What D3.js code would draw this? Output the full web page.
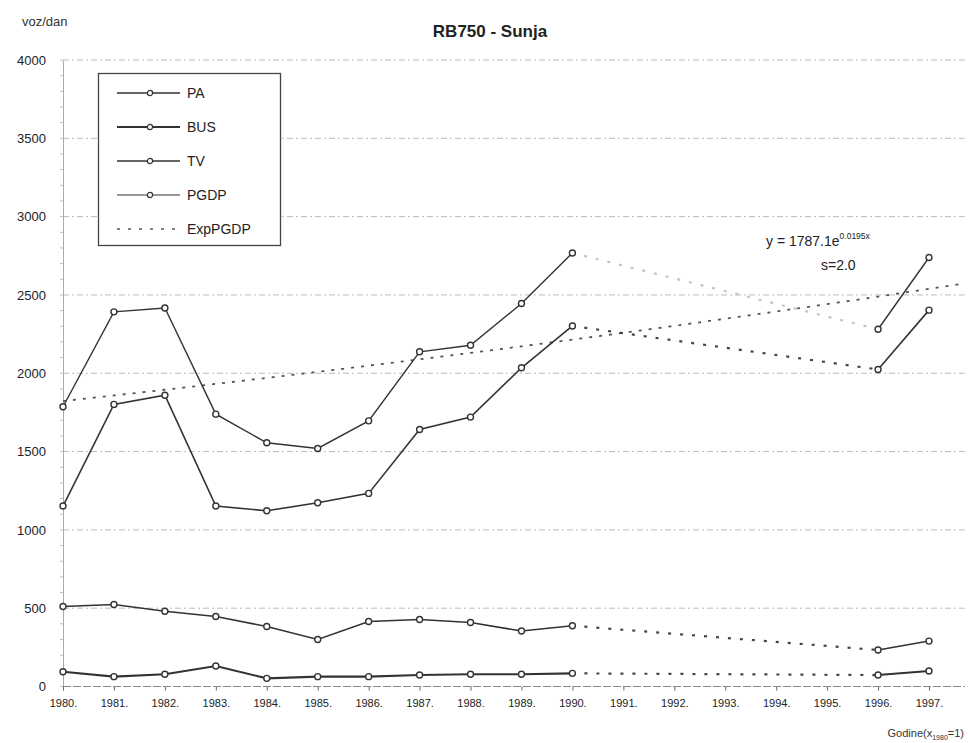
<!DOCTYPE html>
<html>
<head>
<meta charset="utf-8">
<script src="https://cdn.jsdelivr.net/npm/d3@7"></script>
<style>
  html, body { margin: 0; padding: 0; background: #fff; }
  svg { display: block; font-family: "Liberation Sans", Arial, sans-serif; }
</style>
</head>
<body>
<svg id="chart" width="968" height="743"></svg>
<script>
// Years on the x axis (x = 1 for 1980)
const years = [1980, 1981, 1982, 1983, 1984, 1985, 1986, 1987, 1988, 1989, 1990, 1991, 1992, 1993, 1994, 1995, 1996, 1997];
const yTicks = [0, 500, 1000, 1500, 2000, 2500, 3000, 3500, 4000];

// Counted years (no counts 1991–1995)
const countYearsA = [1980, 1981, 1982, 1983, 1984, 1985, 1986, 1987, 1988, 1989, 1990];
const countYearsB = [1996, 1997];

// Vehicles per day
const paA   = [1152, 1801, 1860, 1152, 1122, 1173, 1233, 1641, 1720, 2035, 2302];
const paB   = [2024, 2403];
const busA  = [94, 63, 78, 131, 52, 63, 63, 73, 78, 78, 84];
const busB  = [73, 99];
const tvA   = [511, 524, 480, 447, 383, 300, 415, 428, 409, 354, 388];
const tvB   = [233, 290];
const pgdpA = [1786, 2392, 2417, 1739, 1556, 1520, 1696, 2137, 2179, 2445, 2768];
const pgdpB = [2281, 2739];

// Exponential trend of PGDP as stated on the chart: y = a·e^(b·x)
const expA = 1787.1;
const expB = 0.0195;
const trendLabel = "s=2.0";

const svg = d3.select("#chart");
const x = d3.scaleLinear().domain([1980, 1997]).range([63, 929]);
const y = d3.scaleLinear().domain([0, 4000]).range([686.5, 60]);
const xEnd = 1997.7;   // right edge of the plot area

const ink = "#333";
const font = "Liberation Sans, Arial, sans-serif";

// Title and axis captions
svg.append("text").attr("x", 490).attr("y", 37).attr("text-anchor", "middle")
  .attr("font-size", 17).attr("font-weight", "bold").attr("fill", "#222").text("RB750 - Sunja");
svg.append("text").attr("x", 22).attr("y", 26).attr("font-size", 13).attr("fill", "#333").text("voz/dan");
const cap = svg.append("text").attr("x", 964).attr("y", 737).attr("text-anchor", "end")
  .attr("font-size", 11).attr("fill", "#333");
cap.append("tspan").attr("fill", "#333").text("Godine(x");
cap.append("tspan").attr("fill", "#333").attr("font-size", 7).attr("dy", 3).text("1980");
cap.append("tspan").attr("fill", "#333").attr("dy", -3).text("=1)");

// Horizontal gridlines
svg.append("g").selectAll("line").data(yTicks.filter(d => d > 0)).join("line")
  .attr("x1", x(1980)).attr("x2", x(xEnd))
  .attr("y1", d => y(d)).attr("y2", d => y(d))
  .attr("stroke", "#bbb").attr("stroke-width", 1).attr("stroke-dasharray", "6,3,2,3");

// Y axis with minor ticks
const yAxis = d3.axisLeft(y).tickValues(yTicks).tickSize(0).tickPadding(17).tickFormat(d3.format("d"));
const gy = svg.append("g").attr("transform", `translate(${x(1980)},0)`).call(yAxis);
gy.select(".domain").attr("stroke", "#aaa");
gy.selectAll("text").attr("font-size", 13).attr("fill", "#222").attr("font-family", font);
const minor = d3.range(0, 4001, 100);
gy.append("g").selectAll("line").data(minor).join("line")
  .attr("x1", -3).attr("x2", 0).attr("y1", d => y(d)).attr("y2", d => y(d)).attr("stroke", "#bbb");

// X axis
const xAxis = d3.axisBottom(x).tickValues(years).tickSize(4).tickPadding(9).tickFormat(d => d + ".");
const gx = svg.append("g").attr("transform", `translate(0,${y(0)})`).call(xAxis);
gx.select(".domain").remove();
gx.append("line").attr("x1", x(1980)).attr("x2", x(xEnd)).attr("stroke", "#888").attr("stroke-dasharray", "8,2");
gx.selectAll(".tick line").attr("stroke", "#666");
gx.selectAll("text").attr("font-size", 11).attr("fill", "#222").attr("font-family", font);

// Exponential trend line
const trendYears = d3.range(1980, xEnd, 0.25).concat([xEnd]);
const trend = trendYears.map(t => ({ t, v: expA * Math.exp(expB * (t - 1979)) }));
const line = d3.line().x(d => x(d.t)).y(d => y(d.v));
svg.append("path").datum(trend)
  .attr("d", line)
  .attr("fill", "none").attr("stroke", "#555").attr("stroke-width", 1.8).attr("stroke-dasharray", "3,7");

const pts = (ys, vs) => ys.map((t, i) => ({ t, v: vs[i] }));

const series = [
  { a: pgdpA, b: pgdpB, w: 1.4, gap: "#c4c4c4" },
  { a: paA,   b: paB,   w: 1.6, gap: "#444" },
  { a: tvA,   b: tvB,   w: 1.6, gap: "#444" },
  { a: busA,  b: busB,  w: 2.1, gap: "#444" }
];

series.forEach(s => {
  const A = pts(countYearsA, s.a), B = pts(countYearsB, s.b);
  // dotted bridge over the years without counts
  svg.append("path").datum([A[A.length - 1], B[0]])
    .attr("d", line).attr("fill", "none").attr("stroke", s.gap)
    .attr("stroke-width", 2.2).attr("stroke-dasharray", "3,9");
  [A, B].forEach(seg => {
    svg.append("path").datum(seg).attr("d", line).attr("fill", "none")
      .attr("stroke", ink).attr("stroke-width", s.w);
    svg.append("g").selectAll("circle").data(seg).join("circle")
      .attr("cx", d => x(d.t)).attr("cy", d => y(d.v)).attr("r", 3)
      .attr("fill", "#fff").attr("stroke", ink).attr("stroke-width", 1.4);
  });
});

// Trend equation
const eq = svg.append("text").attr("x", 766).attr("y", 246).attr("font-size", 14).attr("fill", "#222");
eq.append("tspan").text("y = 1787.1e");
eq.append("tspan").attr("font-size", 8.5).attr("dy", -7).text(expB.toFixed(4) + "x");
svg.append("text").attr("x", 821).attr("y", 270).attr("font-size", 14).attr("fill", "#222").text(trendLabel);

// Legend
const legend = [
  { name: "PA", w: 1.4, dash: null },
  { name: "BUS", w: 2.1, dash: null },
  { name: "TV", w: 1.4, dash: null },
  { name: "PGDP", w: 1.2, dash: null },
  { name: "ExpPGDP", w: 1.6, dash: "3,8" }
];
const lg = svg.append("g");
lg.append("rect").attr("x", 98.5).attr("y", 73.5).attr("width", 182).attr("height", 172)
  .attr("fill", "#fff").attr("stroke", "#444").attr("stroke-width", 1.3);
const rows = lg.selectAll("g.row").data(legend).join("g").attr("class", "row")
  .attr("transform", (d, i) => `translate(0,${93 + i * 34})`);
rows.append("line").attr("x1", 117).attr("x2", 180).attr("stroke", d => d.dash ? "#555" : ink)
  .attr("stroke-width", d => d.w).attr("stroke-dasharray", d => d.dash);
rows.filter(d => !d.dash).append("circle").attr("cx", 150).attr("r", 2.6)
  .attr("fill", "#fff").attr("stroke", ink).attr("stroke-width", 1.2);
rows.append("text").attr("x", 187).attr("y", 5).attr("font-size", 14).attr("fill", "#222").text(d => d.name);
</script>
</body>
</html>
